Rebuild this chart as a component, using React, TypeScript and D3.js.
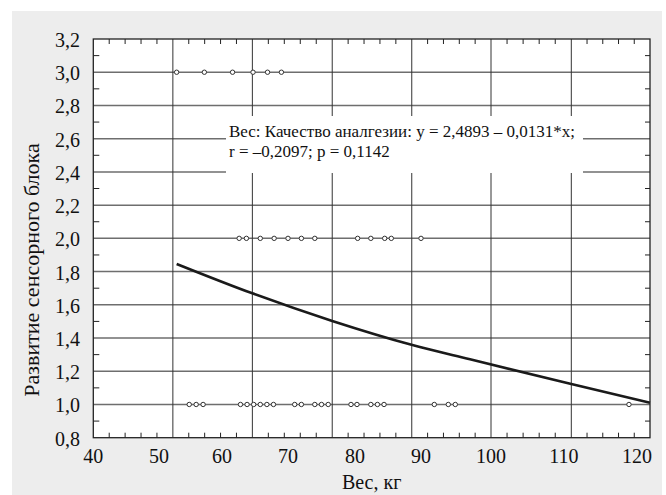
import React from "react";
import * as d3 from "d3";

// ---- data ----
const xTickLabels = [40, 50, 60, 70, 80, 90, 100, 110, 120];
const yTickLabels = [0.8, 1.0, 1.2, 1.4, 1.6, 1.8, 2.0, 2.2, 2.4, 2.6, 2.8, 3.0, 3.2];
const xGridValues = [52.2, 64.6, 76.6, 88.6, 100.0, 111.0];

const weightsScore3 = [52.8, 57.2, 61.6, 64.7, 66.9, 69.0];
const weightsScore2 = [62.6, 63.7, 65.8, 67.9, 70.0, 72.0, 74.0, 80.4, 82.4, 84.5, 85.5, 90.0];
const weightsScore1 = [54.8, 55.9, 57.0, 62.8, 63.8, 64.8, 65.8, 66.8, 67.8, 71.0, 72.0, 74.0, 75.0, 76.0, 79.4, 80.3, 82.4, 83.4, 84.4, 91.9, 93.9, 94.9, 118.9];

const fitX = [52.8, 64.6, 76.6, 88.7, 97.0, 111.0, 121.8];
const fitY = [1.846, 1.669, 1.503, 1.358, 1.272, 1.123, 1.011];

const annotationLines = [
  "Вес: Качество аналгезии: y = 2,4893 – 0,0131*x;",
  "r = –0,2097; p = 0,1142",
];
const xTitle = "Вес, кг";
const yTitle = "Развитие сенсорного блока";

// ---- layout ----
const W = 666;
const H = 495;
const left = 93.3;
const right = 650;
const top = 39;
const bottom = 437.7;
const font = "'Liberation Serif', 'Times New Roman', serif";

export default function App() {
  // axis in the reference is not uniformly spaced: piecewise-linear scale
  const x = d3
    .scaleLinear()
    .domain([40, 50, 60, 70, 80, 90, 100, 110, 120, 121.8])
    .range([left, 159, 222, 288, 355, 421, 491, 564, 637, right]);
  const y = d3.scaleLinear().domain([0.8, 3.2]).range([bottom, top]);

  const fmt = (v: number) => v.toFixed(1).replace(".", ",");

  // grid pixel positions (including plot edges) for minor ticks
  const gridPx = [left, ...xGridValues.map((v) => x(v)), right];
  const minorX: number[] = [];
  for (let i = 0; i < gridPx.length - 1; i++) {
    for (let k = 1; k < 5; k++) {
      minorX.push(gridPx[i] + ((gridPx[i + 1] - gridPx[i]) * k) / 5);
    }
  }
  const minorY = d3.range(0, yTickLabels.length - 1).map(
    (i) => (yTickLabels[i] + yTickLabels[i + 1]) / 2
  );

  const line = d3
    .line<number>()
    .x((_, i) => x(fitX[i]))
    .y((d) => y(d))
    .curve(d3.curveMonotoneX);

  const pts = [
    ...weightsScore3.map((w) => ({ w, s: 3 })),
    ...weightsScore2.map((w) => ({ w, s: 2 })),
    ...weightsScore1.map((w) => ({ w, s: 1 })),
  ];

  return (
    <svg
      width={W}
      height={H}
      style={{ position: "absolute", left: 0, top: 0 }}
      fontFamily={font}
    >
      <rect x={0} y={0} width={W} height={H} fill="#ffffff" />
      <rect x={12} y={11} width={650} height={H - 11} fill="#ededed" />
      <rect x={left} y={top} width={right - left} height={bottom - top} fill="#ffffff" />

      {/* horizontal grid */}
      {yTickLabels.slice(1, -1).map((v) => (
        <line key={"hg" + v} x1={left} x2={right} y1={y(v)} y2={y(v)} stroke="#6e6e6e" strokeWidth={1.5} />
      ))}
      {/* vertical grid */}
      {xGridValues.map((v) => (
        <line key={"vg" + v} x1={x(v)} x2={x(v)} y1={top} y2={bottom} stroke="#333" strokeWidth={1} />
      ))}

      {/* minor ticks */}
      {minorX.map((px, i) => (
        <g key={"mx" + i}>
          <line x1={px} x2={px} y1={bottom} y2={bottom - 5} stroke="#222" strokeWidth={1} />
          <line x1={px} x2={px} y1={top} y2={top + 5} stroke="#222" strokeWidth={1} />
        </g>
      ))}
      {minorY.map((v, i) => (
        <g key={"my" + i}>
          <line x1={left} x2={left + 6} y1={y(v)} y2={y(v)} stroke="#222" strokeWidth={1} />
          <line x1={right} x2={right - 5} y1={y(v)} y2={y(v)} stroke="#222" strokeWidth={1} />
        </g>
      ))}

      {/* annotation box */}
      <rect x={226} y={116} width={357} height={57} fill="#ffffff" />
      {annotationLines.map((t, i) => (
        <text key={"an" + i} x={229} y={137 + i * 19.5} fontSize={17} fill="#111">
          {t}
        </text>
      ))}

      {/* fit line */}
      <path d={line(fitY) || ""} fill="none" stroke="#1a1a1a" strokeWidth={2.6} />

      {/* points */}
      {pts.map((p, i) => (
        <circle key={"p" + i} cx={x(p.w)} cy={y(p.s)} r={2.2} fill="#fff" stroke="#333" strokeWidth={1} />
      ))}

      {/* frame */}
      <rect x={left} y={top} width={right - left} height={bottom - top} fill="none" stroke="#222" strokeWidth={1.3} />

      {/* tick labels */}
      {yTickLabels.map((v) => (
        <text key={"yl" + v} x={80} y={y(v)} dy="0.4em" textAnchor="end" fontSize={20} fill="#111">
          {fmt(v)}
        </text>
      ))}
      {xTickLabels.map((v) => (
        <text key={"xl" + v} x={x(v)} y={463} textAnchor="middle" fontSize={20} fill="#111">
          {v}
        </text>
      ))}

      {/* titles */}
      <text x={(left + right) / 2} y={489} textAnchor="middle" fontSize={20} fill="#111">
        {xTitle}
      </text>
      <text
        transform={`translate(39, 270) rotate(-90)`}
        textAnchor="middle"
        fontSize={22}
        fill="#111"
      >
        {yTitle}
      </text>
    </svg>
  );
}
